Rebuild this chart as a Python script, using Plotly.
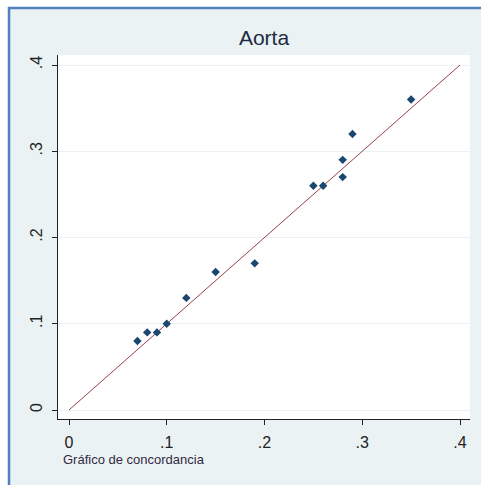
import plotly.graph_objects as go

# Paired measurements (method A vs method B), aorta
method_a = [0.07, 0.08, 0.09, 0.10, 0.12, 0.15, 0.19, 0.25, 0.26, 0.28, 0.28, 0.29, 0.35]
method_b = [0.08, 0.09, 0.09, 0.10, 0.13, 0.16, 0.17, 0.26, 0.26, 0.29, 0.27, 0.32, 0.36]

# Line of perfect agreement
identity_x = [0.0, 0.4]
identity_y = [0.0, 0.4]

tick_vals = [0, 0.1, 0.2, 0.3, 0.4]
tick_text = ["0", ".1", ".2", ".3", ".4"]

W, H = 481, 485
L, R, T, B = 58, 11, 55, 66
pw, ph = W - L - R, H - T - B


def px_x(p):
    return (p - L) / pw


def px_y(p):
    return (H - B - p) / ph


BG = "#EAF2F3"
FONT = "Liberation Sans, Arial, sans-serif"

fig = go.Figure()

fig.add_trace(go.Scatter(
    x=identity_x, y=identity_y, mode="lines",
    line=dict(color="#9a4046", width=1),
    hoverinfo="skip", showlegend=False,
))
fig.add_trace(go.Scatter(
    x=method_a, y=method_b, mode="markers",
    marker=dict(symbol="diamond", size=6.5, color="#1a476f"),
    showlegend=False,
))

shapes = [
    # white strips outside the framed region
    dict(type="rect", xref="paper", yref="paper", layer="below",
         x0=px_x(-5), x1=px_x(W + 5), y0=px_y(7), y1=px_y(-5),
         fillcolor="white", line=dict(width=0)),
    dict(type="rect", xref="paper", yref="paper", layer="below",
         x0=px_x(-5), x1=px_x(8), y0=px_y(H + 5), y1=px_y(-5),
         fillcolor="white", line=dict(width=0)),
    # blue frame edges (top and left)
    dict(type="line", xref="paper", yref="paper",
         x0=px_x(8), x1=px_x(W + 5), y0=px_y(8), y1=px_y(8),
         line=dict(color="#4f81bd", width=2.5)),
    dict(type="line", xref="paper", yref="paper",
         x0=px_x(9), x1=px_x(9), y0=px_y(7), y1=px_y(H + 5),
         line=dict(color="#4f81bd", width=2.5)),
]

fig.update_layout(
    width=W, height=H,
    margin=dict(l=L, r=R, t=T, b=B, pad=0),
    paper_bgcolor=BG,
    plot_bgcolor="white",
    font=dict(family=FONT, color="#222222"),
    shapes=shapes,
    title=dict(text="Aorta", x=(L + pw / 2) / W, xanchor="center",
               y=1 - 38 / H, yanchor="middle",
               font=dict(size=21, color="#1e2a44", family=FONT)),
    annotations=[dict(
        text="Gráfico de concordancia", xref="paper", yref="paper",
        x=px_x(61), y=px_y(459), xanchor="left", yanchor="middle",
        showarrow=False, font=dict(size=13, color="#332a44", family=FONT),
    )],
)

fig.update_xaxes(
    range=[(L - 69) / 977.5, (W - R - 69) / 977.5],
    tickvals=tick_vals, ticktext=tick_text,
    ticks="outside", ticklen=5, tickwidth=1, tickcolor="#222222",
    showline=True, linecolor="#222222", linewidth=1,
    showgrid=False, zeroline=False,
    tickfont=dict(size=16, color="#222222"),
    ticklabelstandoff=4,
)
fig.update_yaxes(
    range=[-(H - B - 410) / 862.5, (410 - T) / 862.5],
    tickvals=tick_vals, ticktext=tick_text,
    ticks="outside", ticklen=5, tickwidth=1, tickcolor="#222222",
    showline=True, linecolor="#222222", linewidth=1,
    showgrid=True, gridcolor=BG, gridwidth=1, zeroline=False,
    tickangle=-90,
    tickfont=dict(size=16, color="#222222"),
    ticklabelstandoff=4,
)

fig.write_html("out.html")
